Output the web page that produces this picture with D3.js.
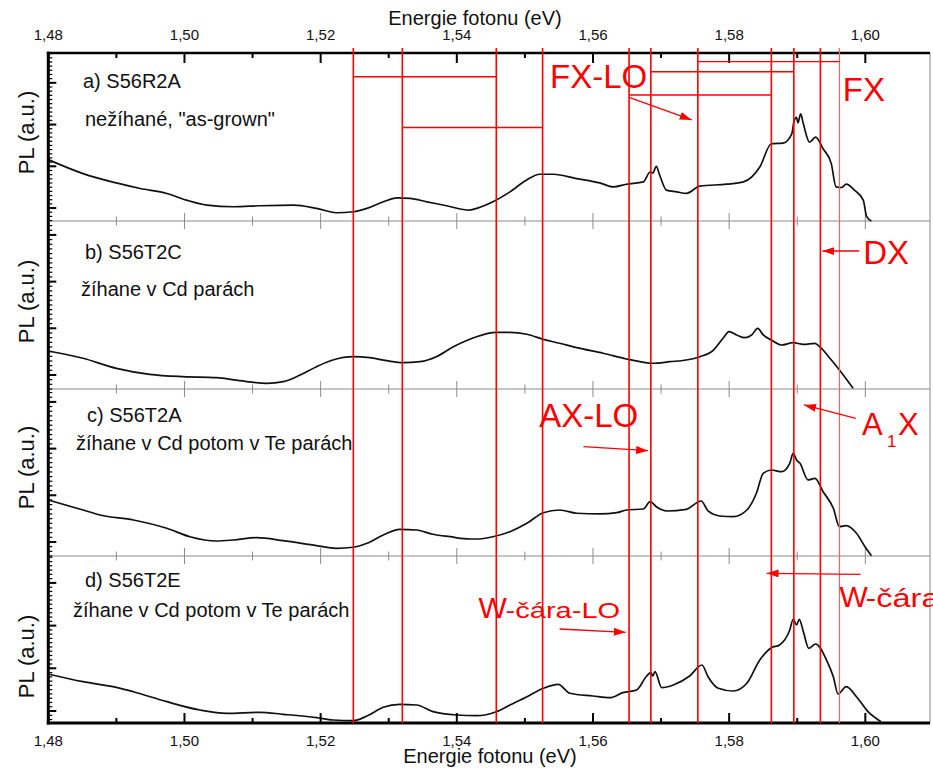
<!DOCTYPE html>
<html><head><meta charset="utf-8">
<script src="https://cdn.jsdelivr.net/npm/d3@7"></script>
<style>html,body{margin:0;padding:0;background:#fff}svg{display:block}</style>
</head><body>
<svg id="chart" width="933" height="769"></svg>
<script>
// ---------------- DATA ----------------
const xMajorTicks = [1.48, 1.50, 1.52, 1.54, 1.56, 1.58, 1.60];
const xTickLabels = ["1,48", "1,50", "1,52", "1,54", "1,56", "1,58", "1,60"];
const xMinorTicks = [1.49, 1.51, 1.53, 1.55, 1.57, 1.59];
const yMajorTicks = [1, 2, 3, 4];

const panelNames = ["a) S56R2A", "b) S56T2C", "c) S56T2A", "d) S56T2E"];
const panelNotes = ["nežíhané, \"as-grown\"", "žíhane v Cd parách", "žíhane v Cd potom v Te parách", "žíhane v Cd potom v Te parách"];

const energyA = [1.4800,1.4851,1.4900,1.4935,1.4974,1.5003,1.5033,1.5072,1.5111,1.5160,1.5194,1.5223,1.5248,1.5268,1.5292,1.5312,1.5331,1.5356,1.5385,1.5419,1.5424,1.5453,1.5478,1.5502,1.5522,1.5542,1.5576,1.5610,1.5630,1.5649,1.5674,1.5684,1.5688,1.5693,1.5698,1.5708,1.5723,1.5737,1.5757,1.5796,1.5821,1.5845,1.5862,1.5879,1.5892,1.5895,1.5899,1.5901,1.5905,1.5909,1.5918,1.5927,1.5938,1.5950,1.5957,1.5965,1.5972,1.5984,1.5997,1.6002,1.6009];
const pl_A = [2.160,1.826,1.602,1.469,1.350,1.190,1.071,1.031,1.055,1.071,0.993,0.888,0.912,0.993,1.150,1.245,1.231,1.150,1.055,0.952,0.969,1.150,1.388,1.667,1.810,1.810,1.707,1.602,1.507,1.571,1.626,1.864,1.840,2.000,1.786,1.429,1.388,1.350,1.524,1.571,1.626,1.983,2.540,2.555,2.779,3.055,3.174,3.040,3.255,3.017,2.579,2.698,2.421,2.064,1.507,1.493,1.571,1.429,1.190,0.793,0.690];

const energyB = [1.4800,1.4851,1.4900,1.4949,1.4998,1.5047,1.5081,1.5121,1.5145,1.5170,1.5194,1.5218,1.5248,1.5272,1.5297,1.5321,1.5346,1.5370,1.5395,1.5419,1.5429,1.5458,1.5478,1.5503,1.5527,1.5551,1.5576,1.5615,1.5649,1.5669,1.5688,1.5713,1.5737,1.5757,1.5777,1.5791,1.5800,1.5811,1.5823,1.5833,1.5842,1.5850,1.5862,1.5877,1.5894,1.5909,1.5926,1.5933,1.5948,1.5962,1.5982];
const pl_B = [1.514,1.358,1.143,1.015,0.964,0.942,0.878,0.822,0.857,1.000,1.178,1.321,1.392,1.370,1.306,1.263,1.285,1.392,1.606,1.764,1.820,1.914,1.914,1.872,1.764,1.679,1.585,1.465,1.343,1.285,1.251,1.285,1.321,1.392,1.535,1.786,1.927,1.857,1.799,1.857,2.000,1.857,1.749,1.642,1.692,1.657,1.679,1.606,1.358,1.107,0.715];

const energyC = [1.4800,1.4851,1.4876,1.4925,1.4974,1.5008,1.5047,1.5072,1.5106,1.5145,1.5194,1.5223,1.5248,1.5268,1.5292,1.5316,1.5341,1.5365,1.5390,1.5419,1.5429,1.5453,1.5478,1.5503,1.5527,1.5551,1.5576,1.5610,1.5635,1.5649,1.5674,1.5684,1.5693,1.5708,1.5737,1.5759,1.5769,1.5786,1.5806,1.5826,1.5840,1.5850,1.5862,1.5877,1.5889,1.5894,1.5899,1.5904,1.5916,1.5926,1.5938,1.5953,1.5962,1.5972,1.5987,1.6001,1.6009];
const pl_C = [1.899,1.685,1.578,1.471,1.293,1.113,1.021,1.043,1.092,1.028,0.921,0.865,0.887,0.972,1.150,1.272,1.257,1.165,1.113,1.064,1.064,1.113,1.221,1.400,1.627,1.685,1.615,1.600,1.627,1.685,1.707,1.863,1.756,1.664,1.700,1.878,1.664,1.557,1.542,1.685,2.043,2.471,2.542,2.505,2.685,2.899,2.756,2.685,2.328,2.364,2.077,1.722,1.328,1.349,1.186,0.865,0.706];

const energyD = [1.4800,1.4851,1.4900,1.4925,1.4974,1.5023,1.5062,1.5111,1.5145,1.5194,1.5218,1.5248,1.5268,1.5292,1.5316,1.5341,1.5365,1.5400,1.5429,1.5458,1.5478,1.5503,1.5527,1.5549,1.5566,1.5600,1.5625,1.5644,1.5664,1.5679,1.5685,1.5688,1.5691,1.5701,1.5718,1.5742,1.5760,1.5769,1.5784,1.5806,1.5826,1.5845,1.5862,1.5874,1.5889,1.5894,1.5899,1.5903,1.5909,1.5917,1.5927,1.5943,1.5953,1.5960,1.5972,1.5987,1.6004,1.6023];
const pl_D = [1.867,1.686,1.555,1.452,1.218,1.023,0.946,0.970,0.923,0.843,0.789,0.773,0.883,1.087,1.157,1.141,0.984,0.906,0.890,0.984,1.141,1.335,1.532,1.625,1.415,1.351,1.311,1.429,1.492,1.820,1.897,1.820,1.920,1.546,1.609,1.820,2.077,1.803,1.532,1.468,1.649,2.194,2.482,2.546,2.897,3.148,3.014,3.148,2.857,2.468,2.569,2.194,1.803,1.398,1.569,1.335,0.984,0.749];

// red marker lines (peak energies, eV)
const markerEnergies = [1.5248, 1.5320, 1.5458, 1.5526, 1.5653, 1.5685, 1.5754, 1.5862, 1.5895, 1.5934, 1.5962];
const markerFaint = [false, false, false, false, false, false, false, false, false, false, true];
// LO-phonon brackets in panel a
const loStart = [1.5248, 1.5320, 1.5754, 1.5685, 1.5653];
const loEnd   = [1.5458, 1.5526, 1.5962, 1.5895, 1.5862];
const loLevel = [4.143, 2.929, 4.507, 4.262, 3.707];

// annotations
const annPanel = [0, 0, 1, 2, 2, 3, 3];
const annLabel = ["FX-LO", "FX", "DX", "AX-LO", "A1X", "W-čára-LO", "W-čára"];
const annLabelE = [1.5537, 1.5967, 1.5997, 1.5521, 1.5995, 1.5432, 1.5962];
const annLabelV = [3.874, 3.555, 3.370, 3.469, 3.291, 3.171, 3.443];
const arrowE0 = [1.5653, null, 1.5991, 1.5586, 1.5986, 1.5551, 1.5993];
const arrowV0 = [3.650, null, 3.655, 3.041, 3.649, 2.920, 4.201];
const arrowE1 = [1.5745, null, 1.5937, 1.5681, 1.5910, 1.5648, 1.5855];
const arrowV1 = [3.112, null, 3.655, 2.955, 3.934, 2.843, 4.225];

const panelYDomains = [[0.690, 4.714], [0.700, 4.298], [0.700, 4.276], [0.719, 4.630]];

// ---------------- LAYOUT ----------------
const svg = d3.select("#chart");
const FONT = "'Liberation Sans', Arial, Helvetica, sans-serif";
const L = 48.3, R = 930;
const bounds = [53, 221, 389, 556, 723];
const RED = "#ff0000";

const x = d3.scaleLinear().domain([1.48, 1.6095]).range([L, R]);
const ys = panelYDomains.map((d, i) => d3.scaleLinear().domain(d).range([bounds[i + 1], bounds[i]]));

const series = [[energyA, pl_A], [energyB, pl_B], [energyC, pl_C], [energyD, pl_D]];

svg.append("defs").append("marker")
  .attr("id", "ah").attr("viewBox", "0 0 12 8").attr("refX", 12).attr("refY", 4)
  .attr("markerWidth", 12).attr("markerHeight", 8).attr("markerUnits", "userSpaceOnUse")
  .attr("orient", "auto")
  .append("path").attr("d", "M0,0 L12,4 L0,8 Z").attr("fill", RED);

// right border (gray)
svg.append("line").attr("x1", R).attr("x2", R).attr("y1", bounds[0]).attr("y2", bounds[4])
  .attr("stroke", "#888").attr("stroke-width", 1);

// panel separators (gray) with crossing ticks
for (let i = 1; i < 4; i++) {
  const yb = bounds[i];
  const g = svg.append("g");
  g.append("line").attr("x1", L).attr("x2", R).attr("y1", yb).attr("y2", yb)
    .attr("stroke", "#8a8a8a").attr("stroke-width", 1);
  g.selectAll(".mj").data(xMajorTicks).join("line")
    .attr("x1", d => x(d)).attr("x2", d => x(d)).attr("y1", yb - 8).attr("y2", yb + 8)
    .attr("stroke", "#8a8a8a").attr("stroke-width", 1);
  g.selectAll(".mn").data(xMinorTicks).join("line")
    .attr("x1", d => x(d)).attr("x2", d => x(d)).attr("y1", yb - 4.5).attr("y2", yb + 4.5)
    .attr("stroke", "#8a8a8a").attr("stroke-width", 1);
}

// curves
const line = d3.line().curve(d3.curveMonotoneX);
series.forEach(([es, vs], i) => {
  const pts = es.map((e, k) => [x(e), ys[i](vs[k])]);
  svg.append("path").attr("d", line(pts)).attr("fill", "none")
    .attr("stroke", "#111").attr("stroke-width", 1.7).attr("stroke-linejoin", "round");
});

// left axis ticks per panel
ys.forEach((y, i) => {
  const [d0, d1] = y.domain();
  const minor = d3.range(Math.ceil(d0 * 10), Math.floor(d1 * 10) + 1).map(k => k / 10);
  const g = svg.append("g");
  g.selectAll("line.mn").data(minor).join("line")
    .attr("x1", L).attr("x2", L + 4).attr("y1", d => y(d)).attr("y2", d => y(d))
    .attr("stroke", "#000").attr("stroke-width", 1.2);
  g.selectAll("line.mj").data(yMajorTicks.filter(t => t > d0 && t < d1)).join("line")
    .attr("x1", L).attr("x2", L + 8).attr("y1", d => y(d)).attr("y2", d => y(d))
    .attr("stroke", "#000").attr("stroke-width", 2);
});

// top & bottom axes (black)
function xTicks(yLine, dir) {
  const g = svg.append("g");
  g.selectAll("line.mj").data(xMajorTicks).join("line")
    .attr("x1", d => x(d)).attr("x2", d => x(d)).attr("y1", yLine).attr("y2", yLine + dir * 10)
    .attr("stroke", "#000").attr("stroke-width", 2);
  g.selectAll("line.mn").data(xMinorTicks).join("line")
    .attr("x1", d => x(d)).attr("x2", d => x(d)).attr("y1", yLine).attr("y2", yLine + dir * 5)
    .attr("stroke", "#000").attr("stroke-width", 2);
}
xTicks(bounds[0], 1);
xTicks(bounds[4], -1);
svg.append("line").attr("x1", L - 1.5).attr("x2", R).attr("y1", bounds[0]).attr("y2", bounds[0])
  .attr("stroke", "#000").attr("stroke-width", 2.6);
svg.append("line").attr("x1", L - 1.5).attr("x2", R).attr("y1", bounds[4]).attr("y2", bounds[4])
  .attr("stroke", "#000").attr("stroke-width", 3);
svg.append("line").attr("x1", L).attr("x2", L).attr("y1", bounds[0] - 1.3).attr("y2", bounds[4] + 1.5)
  .attr("stroke", "#000").attr("stroke-width", 3);

// tick labels
[39.5, 746].forEach(yy => {
  svg.append("g").selectAll("text").data(xMajorTicks).join("text")
    .attr("x", d => x(d)).attr("y", yy).attr("text-anchor", "middle")
    .attr("font-family", FONT).attr("font-size", 15).attr("fill", "#111")
    .text((d, i) => xTickLabels[i]);
});
// axis titles
svg.append("text").attr("x", 475).attr("y", 25).attr("text-anchor", "middle")
  .attr("font-family", FONT).attr("font-size", 20).attr("fill", "#111").text("Energie fotonu (eV)");
svg.append("text").attr("x", 490).attr("y", 763).attr("text-anchor", "middle")
  .attr("font-family", FONT).attr("font-size", 20).attr("fill", "#111").text("Energie fotonu (eV)");

// y labels
const yLabelCenters = [132.5, 301.5, 467.5, 656.5];
yLabelCenters.forEach(c => {
  svg.append("text").attr("transform", `translate(34,${c}) rotate(-90)`).attr("text-anchor", "middle")
    .attr("font-family", FONT).attr("font-size", 22).attr("fill", "#111").text("PL (a.u.)");
});

// panel names and notes
const namePos = [[83, 88], [85, 259], [87, 422], [85, 587]];
const notePos = [[85, 126], [81, 296], [76, 450], [73, 617]];
panelNames.forEach((t, i) => {
  svg.append("text").attr("x", namePos[i][0]).attr("y", namePos[i][1])
    .attr("font-family", FONT).attr("font-size", 20).attr("fill", "#111").text(t);
  svg.append("text").attr("x", notePos[i][0]).attr("y", notePos[i][1])
    .attr("font-family", FONT).attr("font-size", 20).attr("fill", "#111").text(panelNotes[i]);
});

// red vertical lines
svg.append("g").selectAll("line").data(markerEnergies).join("line")
  .attr("x1", d => x(d)).attr("x2", d => x(d)).attr("y1", 48).attr("y2", bounds[4])
  .attr("stroke", (d, i) => markerFaint[i] ? "#ff6060" : RED)
  .attr("stroke-width", (d, i) => markerFaint[i] ? 1.2 : 1.6);

// LO brackets
svg.append("g").selectAll("line").data(loStart).join("line")
  .attr("x1", d => x(d)).attr("x2", (d, i) => x(loEnd[i]))
  .attr("y1", (d, i) => ys[0](loLevel[i])).attr("y2", (d, i) => ys[0](loLevel[i]))
  .attr("stroke", RED).attr("stroke-width", (d, i) => i === 2 ? 1.1 : 1.5);

// arrows
annLabel.forEach((t, i) => {
  if (arrowE0[i] === null) return;
  const y = ys[annPanel[i]];
  svg.append("line").attr("x1", x(arrowE0[i])).attr("y1", y(arrowV0[i]))
    .attr("x2", x(arrowE1[i])).attr("y2", y(arrowV1[i]))
    .attr("stroke", RED).attr("stroke-width", 1.3).attr("marker-end", "url(#ah)");
});

// red labels
function redText(px, py, txt, fs, sx) {
  return svg.append("text")
    .attr("transform", `translate(${px},${py})` + (sx ? ` scale(${sx},1)` : ""))
    .attr("font-family", FONT).attr("font-size", fs).attr("fill", RED).text(txt);
}
annLabel.forEach((t, i) => {
  const y = ys[annPanel[i]];
  const px = x(annLabelE[i]), py = y(annLabelV[i]);
  if (t === "A1X") {
    redText(px, py, "A", 31);
    redText(px + 25, py + 12, "1", 17);
    redText(px + 36, py, "X", 31);
  } else if (t === "W-čára-LO") {
    redText(px, py, "W", 30);
    redText(px + 27, py, "-čára-LO", 22, 1.32);
  } else if (t === "W-čára") {
    redText(px, py, "W", 30);
    redText(px + 26, py, "-čára", 25, 1.3);
  } else {
    redText(px, py, t, 33);
  }
});
</script>
</body></html>
